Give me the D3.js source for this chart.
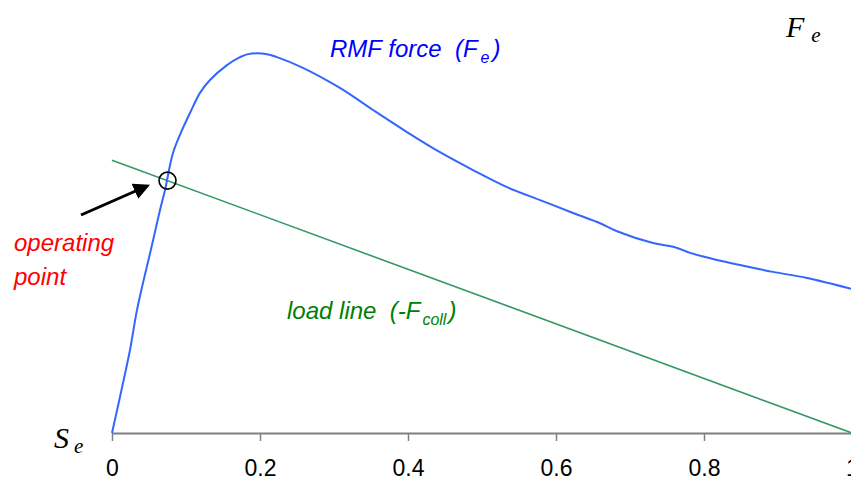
<!DOCTYPE html>
<html>
<head>
<meta charset="utf-8">
<script src="https://cdn.jsdelivr.net/npm/d3@7"></script>
<style>
  html, body { margin: 0; padding: 0; background: #fff; }
  svg { display: block; }
  text { white-space: pre; }
</style>
</head>
<body>
<svg id="chart" width="851" height="483"></svg>
<script>
// ---- data ----
const slipValues = [0, 0.0149, 0.0243, 0.0338, 0.0419, 0.05, 0.0581, 0.0649, 0.0716, 0.0824, 0.0946, 0.1054, 0.1189, 0.1324, 0.1554, 0.173, 0.1838, 0.2095, 0.223, 0.258, 0.308, 0.3527, 0.3986, 0.4432, 0.4878, 0.5338, 0.5784, 0.623, 0.6595, 0.6824, 0.7311, 0.7608, 0.7811, 0.8122, 0.8486, 0.8932, 0.9392, 1.0];
const rmfForce   = [0, 0.1316, 0.2184, 0.324, 0.395, 0.461, 0.529, 0.587, 0.639, 0.737, 0.797, 0.842, 0.895, 0.929, 0.968, 0.989, 0.997, 0.997, 0.989, 0.961, 0.908, 0.85, 0.792, 0.739, 0.692, 0.647, 0.613, 0.579, 0.552, 0.531, 0.5, 0.489, 0.474, 0.458, 0.442, 0.424, 0.408, 0.379];
const loadSlip  = [0, 1];
const loadForce = [0.718, 0];
const operatingSlip = 0.075;
const xTicks = [0, 0.2, 0.4, 0.6, 0.8, 1];
const xTickLabels = ["0", "0.2", "0.4", "0.6", "0.8", "1"];

// ---- scales ----
const svg = d3.select("#chart");
const x = d3.scaleLinear().domain([0, 1]).range([112, 852]);
const y = d3.scaleLinear().domain([0, 1]).range([433, 53]);

const sans = "Arial, 'Liberation Sans', sans-serif";
const serif = "'Times New Roman', 'Liberation Serif', serif";

// ---- axis ----
const axis = d3.axisBottom(x).tickValues(xTicks)
  .tickFormat((d, i) => xTickLabels[i]).tickSizeInner(8).tickSizeOuter(0).tickPadding(19);
const gx = svg.append("g").attr("transform", `translate(0,${y(0)})`).call(axis);
gx.select(".domain").attr("stroke", "#808080").attr("stroke-width", 2);
gx.selectAll(".tick line").attr("stroke", "#808080").attr("stroke-width", 1.5);
gx.selectAll(".tick text").attr("font-family", sans).attr("font-size", 23).attr("fill", "#000");

// ---- load line ----
const loadData = loadSlip.map((s, i) => [s, loadForce[i]]);
svg.append("path").datum(loadData)
  .attr("fill", "none").attr("stroke", "#339966").attr("stroke-width", 1.6)
  .attr("d", d3.line().x(d => x(d[0])).y(d => y(d[1])));

// ---- RMF force curve ----
const curveData = slipValues.map((s, i) => [s, rmfForce[i]]);
svg.append("path").datum(curveData)
  .attr("fill", "none").attr("stroke", "#3366ff").attr("stroke-width", 2)
  .attr("d", d3.line().x(d => x(d[0])).y(d => y(d[1])).curve(d3.curveCatmullRom));

// ---- operating point ----
const loadAt = d3.scaleLinear().domain(loadSlip).range(loadForce);
svg.append("circle")
  .attr("cx", x(operatingSlip)).attr("cy", y(loadAt(operatingSlip)))
  .attr("r", 8.5).attr("fill", "none").attr("stroke", "#000").attr("stroke-width", 1.6);

// arrow
svg.append("defs").append("marker")
  .attr("id", "arrow").attr("viewBox", "0 0 10 10").attr("refX", 8).attr("refY", 5)
  .attr("markerWidth", 5.5).attr("markerHeight", 5.5).attr("orient", "auto")
  .append("path").attr("d", "M0,0 L10,5 L0,10 z").attr("fill", "#000");
svg.append("line")
  .attr("x1", 81).attr("y1", 215).attr("x2", 147).attr("y2", 186)
  .attr("stroke", "#000").attr("stroke-width", 3).attr("marker-end", "url(#arrow)");

// ---- labels ----
const t1 = svg.append("text").attr("x", 330).attr("y", 57)
  .attr("font-family", sans).attr("font-size", 24).attr("font-style", "italic").attr("fill", "#0000ff");
t1.append("tspan").text("RMF force  (F");
t1.append("tspan").attr("font-size", 16).attr("dy", 6).attr("dx", 3).text("e");
t1.append("tspan").attr("dy", -6).attr("dx", 3).text(")");

const t2 = svg.append("text").attr("x", 287).attr("y", 319)
  .attr("font-family", sans).attr("font-size", 24).attr("font-style", "italic").attr("fill", "#008000");
t2.append("tspan").text("load line  (-F");
t2.append("tspan").attr("font-size", 16).attr("dy", 6).attr("dx", 2).text("coll");
t2.append("tspan").attr("dy", -6).attr("dx", 2).text(")");

svg.append("text").attr("x", 14).attr("y", 251)
  .attr("font-family", sans).attr("font-size", 24).attr("font-style", "italic").attr("fill", "#ff0000")
  .text("operating");
svg.append("text").attr("x", 14).attr("y", 285)
  .attr("font-family", sans).attr("font-size", 24).attr("font-style", "italic").attr("fill", "#ff0000")
  .text("point");

const fe = svg.append("text").attr("x", 786).attr("y", 37)
  .attr("font-family", serif).attr("font-size", 30).attr("font-style", "italic").attr("fill", "#000");
fe.append("tspan").text("F");
fe.append("tspan").attr("font-size", 21).attr("dx", 7).attr("dy", 5).text("e");

const se = svg.append("text").attr("x", 54).attr("y", 448)
  .attr("font-family", serif).attr("font-size", 30).attr("font-style", "italic").attr("fill", "#000");
se.append("tspan").text("S");
se.append("tspan").attr("font-size", 21).attr("dx", 5).attr("dy", 5).text("e");
</script>
</body>
</html>
